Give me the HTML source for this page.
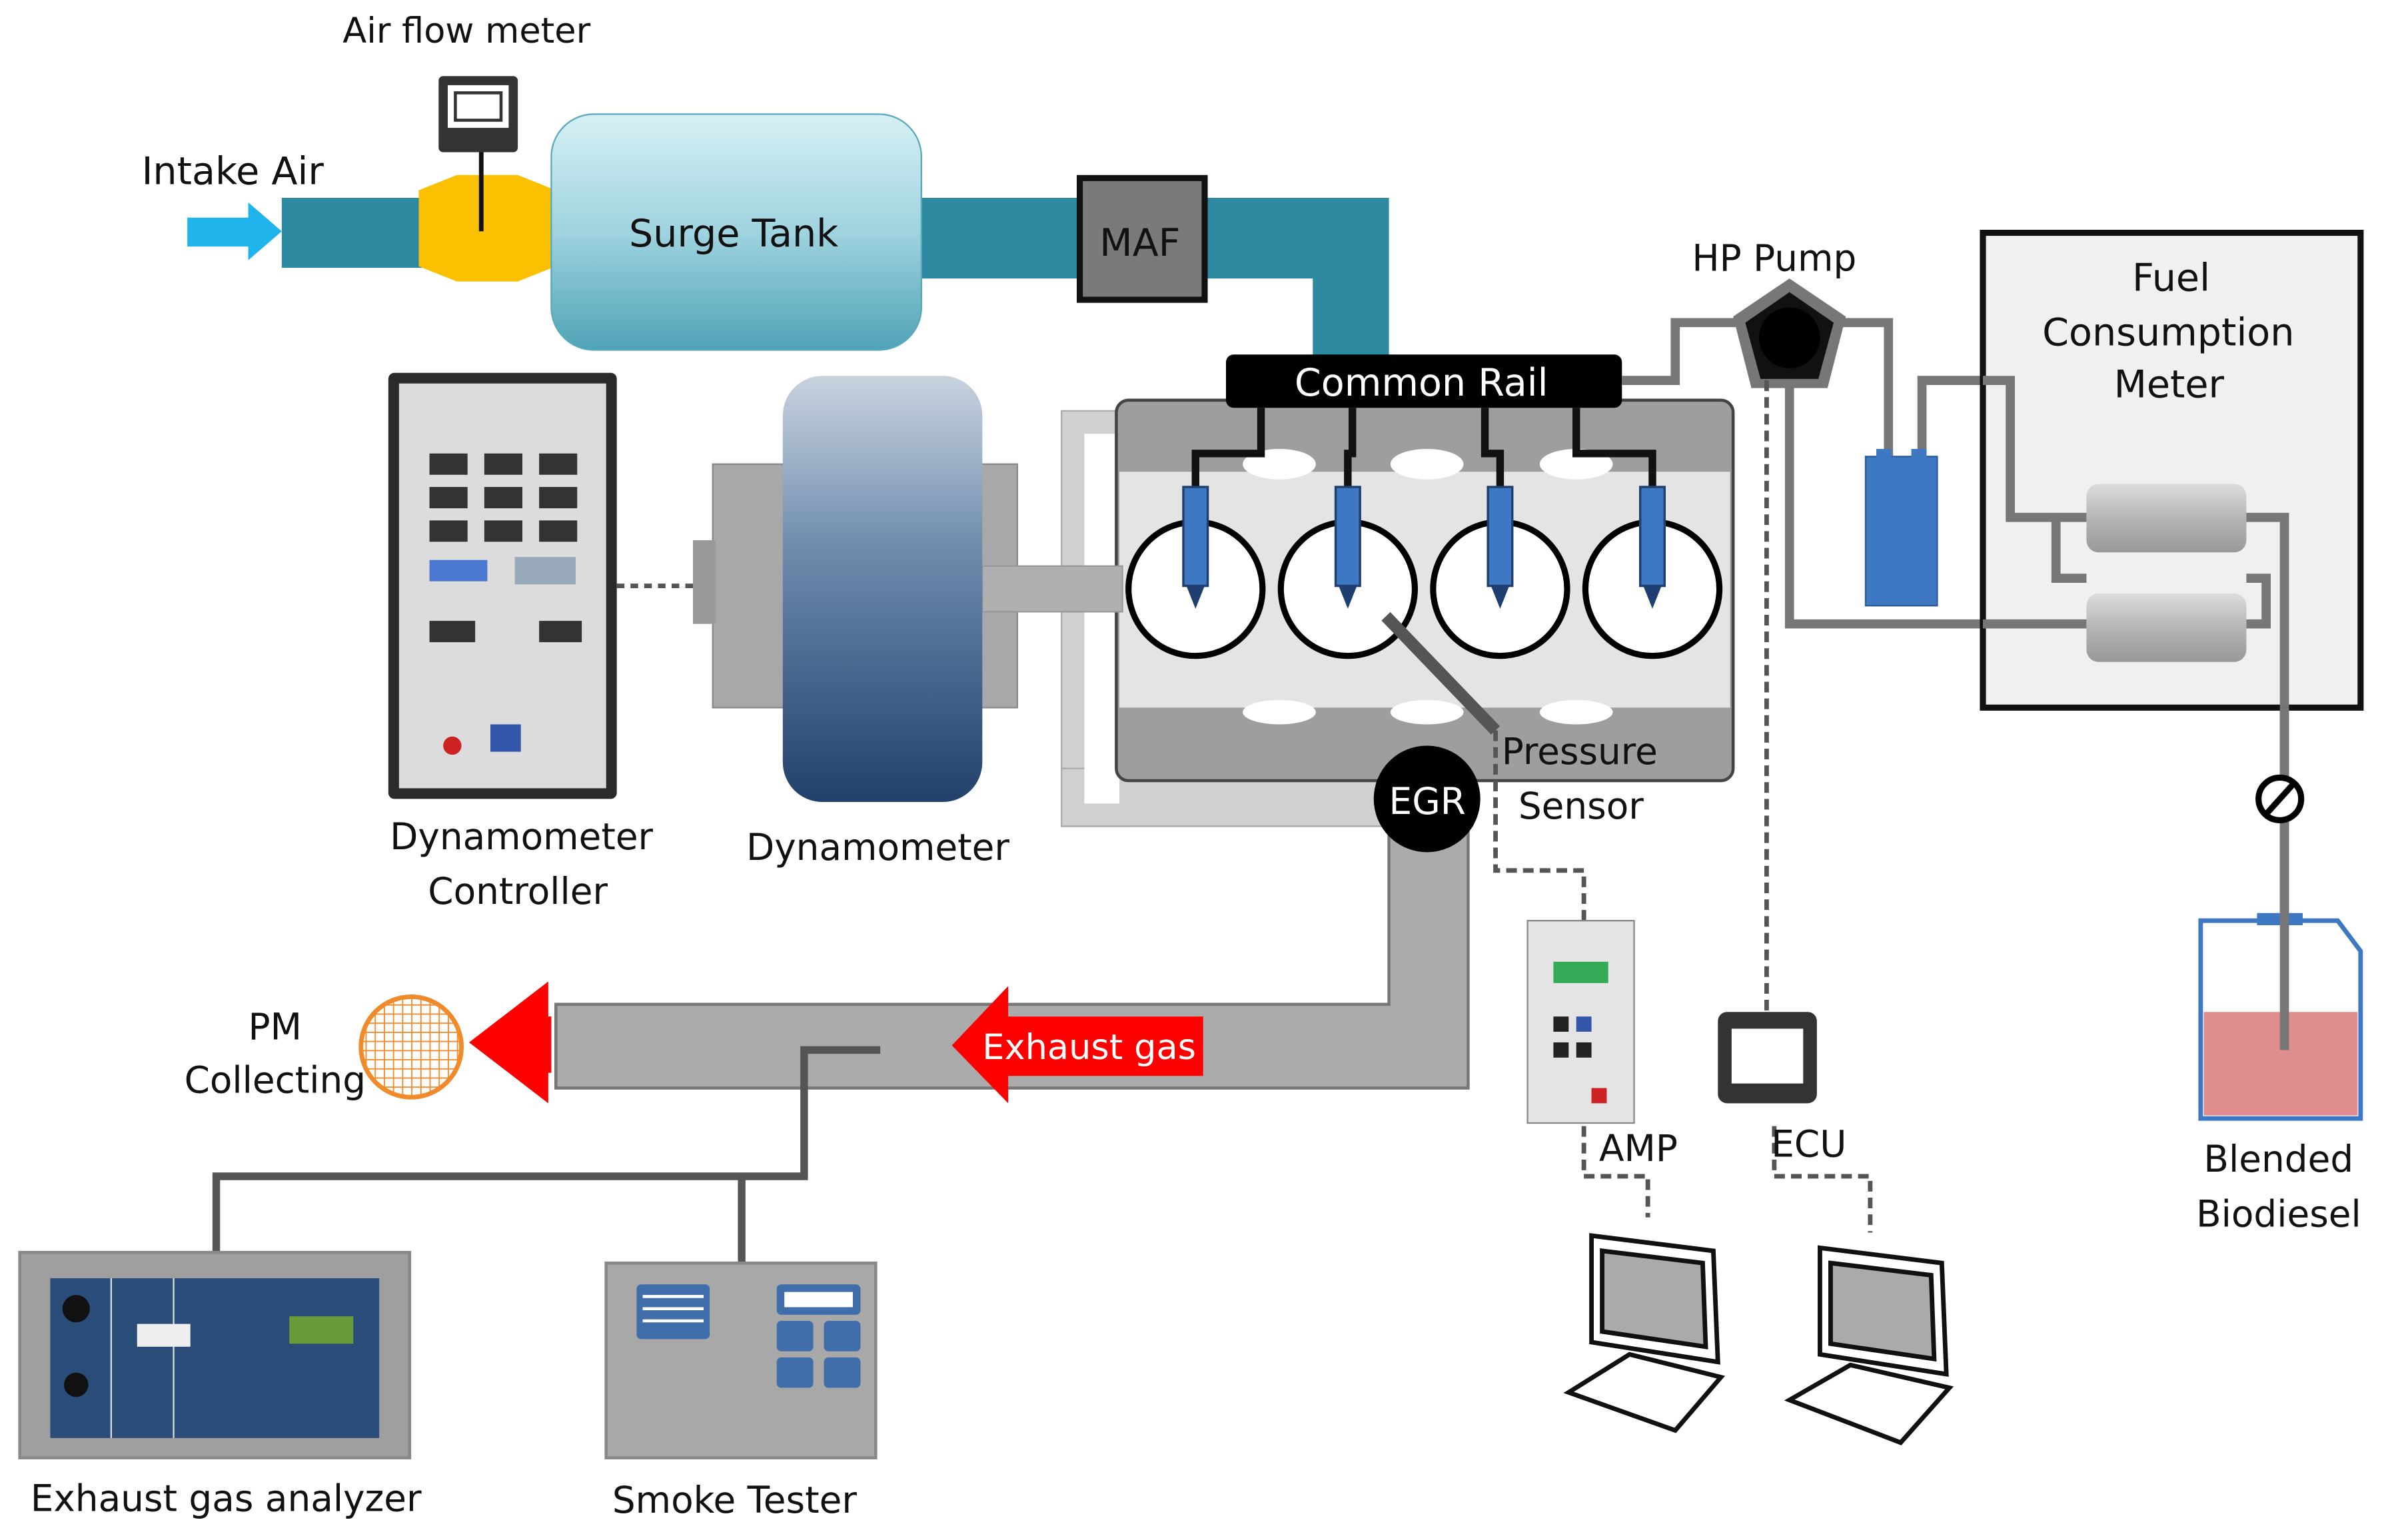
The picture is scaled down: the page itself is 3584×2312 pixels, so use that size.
<!DOCTYPE html>
<html><head><meta charset="utf-8"><style>
html,body{margin:0;padding:0;background:#fff;}
svg{display:block;}
text{font-family:"DejaVu Sans","Liberation Sans",sans-serif;fill:#111;}
</style></head><body>
<svg width="3584" height="2312" viewBox="0 0 1568 1012" preserveAspectRatio="none" xmlns="http://www.w3.org/2000/svg">
<defs>
<linearGradient id="tank" x1="0" y1="0" x2="0" y2="1"><stop offset="0" stop-color="#d6f0f4"/><stop offset="0.5" stop-color="#9fd3df"/><stop offset="1" stop-color="#4fa3b6"/></linearGradient>
<linearGradient id="drum" x1="0" y1="0" x2="0" y2="1"><stop offset="0" stop-color="#c9d3de"/><stop offset="0.4" stop-color="#6f8cae"/><stop offset="1" stop-color="#21406b"/></linearGradient>
<linearGradient id="cyl" x1="0" y1="0" x2="0" y2="1"><stop offset="0" stop-color="#ddd"/><stop offset="0.5" stop-color="#b5b5b5"/><stop offset="1" stop-color="#999"/></linearGradient>
<pattern id="grid" width="6" height="6" patternUnits="userSpaceOnUse"><rect width="6" height="6" fill="#fff"/><path d="M0 0H6M0 0V6" stroke="#f08a2a" stroke-width="1.6"/></pattern>
</defs>

<polygon points="123,143 163,143 163,133 185,152 163,171 163,162 123,162" fill="#1fb4ec"/>
<rect x="185" y="130" width="92" height="46" fill="#2e8aa0"/>
<polygon points="275,125 300,115 340,115 365,125 365,175 340,185 300,185 275,175" fill="#fbc000"/>
<rect x="288" y="50" width="52" height="50" fill="#333" rx="3"/>
<rect x="294" y="56" width="40" height="28" fill="#fff"/><rect x="298" y="60" width="32" height="20" fill="#333"/><rect x="300" y="62" width="28" height="16" fill="#fff"/>
<line x1="316" y1="100" x2="316" y2="152" stroke="#111" stroke-width="3"/>
<text x="225" y="28" font-size="23">Air flow meter</text>
<text x="93" y="121" font-size="25">Intake Air</text>

<path d="M600 130 H912 V240 H862 V183 H600 Z" fill="#2e8aa0"/>
<rect x="362" y="75" width="243" height="155" rx="28" fill="url(#tank)" stroke="#5aa9bb" stroke-width="1"/>
<text x="413" y="162" font-size="25">Surge Tank</text>
<rect x="709" y="117" width="82" height="80" fill="#7a7a7a" stroke="#111" stroke-width="4"/>
<text x="722" y="168" font-size="25">MAF</text>

<path d="M697 270 H740 V543 H697 Z" fill="#d0d0d0" stroke="#aaa"/>
<rect x="697" y="505" width="270" height="38" fill="#d0d0d0" stroke="#aaa"/>
<path d="M712 285 H735 V528 H712 Z" fill="#fff"/>
<rect x="733" y="263" width="405" height="250" rx="8" fill="#9e9e9e" stroke="#444" stroke-width="2"/>
<rect x="735" y="310" width="401" height="155" fill="#e4e4e4"/>
<ellipse cx="840" cy="305" rx="24" ry="10" fill="#fff"/><ellipse cx="937" cy="305" rx="24" ry="10" fill="#fff"/><ellipse cx="1035" cy="305" rx="24" ry="10" fill="#fff"/>
<ellipse cx="840" cy="468" rx="24" ry="8" fill="#fff"/><ellipse cx="937" cy="468" rx="24" ry="8" fill="#fff"/><ellipse cx="1035" cy="468" rx="24" ry="8" fill="#fff"/>
<g fill="#fff" stroke="#000" stroke-width="4">
<circle cx="785" cy="387" r="44"/><circle cx="885" cy="387" r="44"/><circle cx="985" cy="387" r="44"/><circle cx="1085" cy="387" r="44"/>
</g>
<g stroke="#111" stroke-width="5" fill="none">
<path d="M828 268 V298 H785 V320"/><path d="M888 268 V298 H885 V320"/><path d="M975 268 V298 H985 V320"/><path d="M1035 268 V298 H1085 V320"/>
</g>
<g fill="#3f78c2" stroke="#1e3f70" stroke-width="1.5">
<rect x="777" y="320" width="16" height="65"/><rect x="877" y="320" width="16" height="65"/><rect x="977" y="320" width="16" height="65"/><rect x="1077" y="320" width="16" height="65"/>
</g>
<g fill="#1e3f70"><polygon points="779,385 791,385 785,400"/><polygon points="879,385 891,385 885,400"/><polygon points="979,385 991,385 985,400"/><polygon points="1079,385 1091,385 1085,400"/></g>
<line x1="910" y1="405" x2="982" y2="480" stroke="#555" stroke-width="8"/>
<rect x="805" y="233" width="260" height="35" rx="5" fill="#000"/>
<text x="850" y="260" font-size="25" style="fill:#fff">Common Rail</text>
<text x="986" y="502" font-size="24">Pressure</text>
<text x="997" y="538" font-size="24">Sensor</text>

<rect x="468" y="305" width="200" height="160" fill="#a8a8a8" stroke="#888"/>
<rect x="455" y="355" width="15" height="55" fill="#999"/>
<rect x="645" y="372" width="92" height="30" fill="#b0b0b0" stroke="#999"/>
<rect x="514" y="247" width="131" height="280" rx="26" fill="url(#drum)"/>
<text x="490" y="565" font-size="24">Dynamometer</text>
<line x1="405" y1="385" x2="455" y2="385" stroke="#555" stroke-width="3" stroke-dasharray="5,4"/>
<rect x="255" y="245" width="150" height="280" rx="4" fill="#2a2a2a"/>
<rect x="262" y="252" width="136" height="266" fill="#dcdcdc"/>
<g fill="#333">
<rect x="282" y="298" width="25" height="14"/><rect x="318" y="298" width="25" height="14"/><rect x="354" y="298" width="25" height="14"/>
<rect x="282" y="320" width="25" height="14"/><rect x="318" y="320" width="25" height="14"/><rect x="354" y="320" width="25" height="14"/>
<rect x="282" y="342" width="25" height="14"/><rect x="318" y="342" width="25" height="14"/><rect x="354" y="342" width="25" height="14"/>
<rect x="282" y="408" width="30" height="14"/><rect x="354" y="408" width="28" height="14"/>
</g>
<rect x="282" y="368" width="38" height="14" fill="#4a78d0"/><rect x="338" y="366" width="40" height="18" fill="#9ab"/>
<circle cx="297" cy="490" r="6" fill="#c22"/><rect x="322" y="476" width="20" height="18" fill="#35a"/>
<text x="256" y="558" font-size="24">Dynamometer</text>
<text x="281" y="594" font-size="24">Controller</text>

<path d="M912 545 H964 V715 H365 V660 H912 Z" fill="#ababab" stroke="#777" stroke-width="2"/>
<circle cx="937" cy="525" r="35" fill="#000"/>
<text x="912" y="535" font-size="24" style="fill:#fff">EGR</text>
<polygon points="625,687 662,648 662,668 790,668 790,707 662,707 662,725" fill="#f00"/>
<text x="645" y="696" font-size="23" style="fill:#fff">Exhaust gas</text>
<polygon points="308,685 360,645 360,725" fill="#f00"/>
<rect x="340" y="668" width="22" height="37" fill="#f00"/>
<circle cx="270" cy="688" r="33" fill="url(#grid)" stroke="#f08a2a" stroke-width="3"/>
<text x="163" y="683" font-size="24">PM</text>
<text x="121" y="718" font-size="24">Collecting</text>
<path d="M578 690 H528 V773 H142 V825 M487 773 V830" stroke="#555" stroke-width="5" fill="none"/>
<rect x="13" y="823" width="256" height="135" fill="#9f9f9f" stroke="#888" stroke-width="2"/>
<rect x="33" y="840" width="216" height="105" fill="#2a4c78"/>
<line x1="73" y1="840" x2="73" y2="945" stroke="#ddd"/><line x1="114" y1="840" x2="114" y2="945" stroke="#ddd"/>
<rect x="190" y="865" width="42" height="18" fill="#6b9a3a"/><rect x="90" y="870" width="35" height="15" fill="#eee"/>
<circle cx="50" cy="860" r="9" fill="#111"/><circle cx="50" cy="910" r="8" fill="#111"/>
<text x="20" y="993" font-size="24">Exhaust gas analyzer</text>
<rect x="398" y="830" width="177" height="128" fill="#a8a8a8" stroke="#888" stroke-width="2"/>
<rect x="418" y="844" width="48" height="36" rx="3" fill="#3f6eaa"/>
<g stroke="#fff" stroke-width="2"><line x1="422" y1="852" x2="462" y2="852"/><line x1="422" y1="860" x2="462" y2="860"/><line x1="422" y1="868" x2="462" y2="868"/></g>
<rect x="510" y="844" width="55" height="20" rx="3" fill="#3f6eaa"/><rect x="515" y="849" width="45" height="10" fill="#fff"/>
<rect x="510" y="868" width="24" height="20" rx="3" fill="#3f6eaa"/><rect x="541" y="868" width="24" height="20" rx="3" fill="#3f6eaa"/>
<rect x="510" y="892" width="24" height="20" rx="3" fill="#3f6eaa"/><rect x="541" y="892" width="24" height="20" rx="3" fill="#3f6eaa"/>
<text x="402" y="994" font-size="24">Smoke Tester</text>

<path d="M1065 250 H1100 V212 H1140 M1210 212 H1240 V300 M1262 300 V250 H1320 V340 H1370 M1475 340 H1500 V690 M1370 410 H1175 V245" stroke="#777" stroke-width="6" fill="none"/>
<polygon points="1175,183 1212,208 1200,255 1150,255 1138,208" fill="#777"/>
<polygon points="1175,192 1204,212 1194,249 1156,249 1146,212" fill="#111"/>
<circle cx="1175" cy="222" r="20" fill="#000"/>
<text x="1111" y="178" font-size="24">HP Pump</text>
<rect x="1225" y="300" width="47" height="98" fill="#3f78c2" stroke="#2a5a9a"/>
<rect x="1232" y="295" width="10" height="10" fill="#3f78c2"/><rect x="1255" y="295" width="10" height="10" fill="#3f78c2"/>
<rect x="1302" y="153" width="248" height="312" fill="#f0f0f0" stroke="#111" stroke-width="4"/>
<text x="1400" y="191" font-size="25">Fuel</text>
<text x="1341" y="227" font-size="25">Consumption</text>
<text x="1388" y="261" font-size="25">Meter</text>
<path d="M1302 250 H1320 V340 H1370 M1350 340 V380 H1370 M1302 410 H1370 M1475 340 H1500 V465 M1475 410 H1488 V380 H1475" stroke="#777" stroke-width="6" fill="none"/>
<rect x="1370" y="318" width="105" height="45" rx="8" fill="url(#cyl)"/>
<rect x="1370" y="390" width="105" height="45" rx="8" fill="url(#cyl)"/>
<path d="M1445 605 H1535 L1550 625 V735 H1445 Z" fill="#fff" stroke="#3f78c2" stroke-width="3"/>
<path d="M1447 665 H1548 V733 H1447 Z" fill="#e08d8d"/>
<rect x="1482" y="600" width="30" height="8" fill="#3f78c2"/>
<line x1="1500" y1="465" x2="1500" y2="690" stroke="#777" stroke-width="6"/>
<circle cx="1497" cy="525" r="14" fill="#fff" stroke="#000" stroke-width="4"/>
<line x1="1488" y1="535" x2="1506" y2="515" stroke="#000" stroke-width="4"/>
<text x="1447" y="770" font-size="24">Blended</text>
<text x="1442" y="806" font-size="24">Biodiesel</text>

<path d="M982 480 V572 H1040 V605 M1160 250 V665 M1040 740 V773 H1082 V800 M1165 740 V773 H1228 V810" stroke="#555" stroke-width="3" stroke-dasharray="7,4" fill="none"/>
<rect x="1003" y="605" width="70" height="133" fill="#e4e4e4" stroke="#888"/>
<rect x="1020" y="632" width="36" height="14" fill="#3a5"/>
<g fill="#222"><rect x="1020" y="668" width="10" height="10"/><rect x="1035" y="668" width="10" height="10" fill="#35a"/><rect x="1020" y="685" width="10" height="10"/><rect x="1035" y="685" width="10" height="10"/><rect x="1045" y="715" width="10" height="10" fill="#c22"/></g>
<text x="1050" y="763" font-size="24">AMP</text>
<rect x="1128" y="665" width="65" height="60" rx="6" fill="#333"/><rect x="1137" y="676" width="47" height="36" fill="#fff"/>
<text x="1163" y="760" font-size="24">ECU</text>
<g stroke="#111" stroke-width="3" fill="#fff">
<path d="M1045 812 L1125 822 L1128 895 L1045 882 Z"/><path d="M1052 822 L1118 830 L1120 885 L1052 875 Z" fill="#aaa"/>
<path d="M1030 915 L1070 890 L1130 905 L1100 940 Z"/>
<path d="M1195 820 L1275 830 L1278 903 L1195 890 Z"/><path d="M1202 830 L1268 838 L1270 893 L1202 883 Z" fill="#aaa"/>
<path d="M1175 920 L1215 897 L1280 912 L1248 948 Z"/>
</g>
</svg>
</body></html>
